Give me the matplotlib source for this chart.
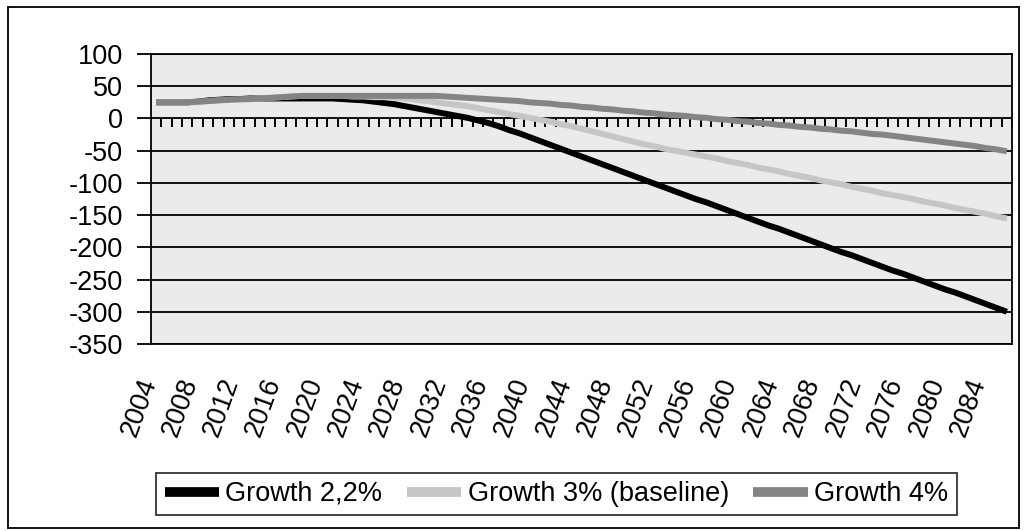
import matplotlib

matplotlib.use("Agg")
import matplotlib.pyplot as plt
from matplotlib.patches import Rectangle
from matplotlib.transforms import ScaledTranslation

plt.rcParams["font.family"] = ["Liberation Sans", "DejaVu Sans"]

# ── data ──────────────────────────────────────────────────────
years = list(range(2004, 2087))

growth_22 = [
    25, 25, 25, 25, 26,
    28, 29, 30, 30, 31,
    31, 31, 31, 31, 31,
    31, 31, 31, 30, 29,
    28, 26, 24, 22, 19,
    16, 13, 10, 7, 4,
    1, -3, -7, -12, -18,
    -23, -29, -35, -41, -47,
    -53, -59, -65, -71, -77,
    -83, -89, -95, -101, -107,
    -113, -119, -125, -130, -136,
    -142, -148, -154, -160, -166,
    -171, -177, -183, -189, -195,
    -201, -207, -212, -218, -224,
    -230, -236, -241, -247, -253,
    -259, -265, -270, -276, -282,
    -288, -294, -300,
]

growth_3 = [
    25, 25, 25, 25, 25,
    27, 28, 29, 29, 30,
    31, 32, 33, 34, 35,
    35, 35, 35, 35, 34,
    34, 33, 33, 32, 31,
    29, 27, 25, 23, 21,
    19, 16, 13, 10, 7,
    4, 1, -2, -5, -9,
    -12, -16, -20, -24, -28,
    -32, -36, -40, -43, -47,
    -50, -53, -56, -59, -62,
    -66, -69, -72, -76, -79,
    -82, -86, -89, -92, -96,
    -99, -102, -106, -109, -112,
    -116, -119, -122, -125, -129,
    -132, -135, -139, -142, -145,
    -148, -152, -155,
]

growth_4 = [
    25, 25, 25, 25, 26,
    27, 28, 29, 30, 30,
    31, 32, 33, 34, 35,
    35, 35, 35, 35, 35,
    35, 35, 35, 35, 35,
    35, 35, 35, 34, 33,
    32, 31, 30, 29, 28,
    27, 25, 24, 23, 21,
    20, 18, 17, 15, 14,
    12, 11, 9, 8, 6,
    5, 4, 2, 1, -1,
    -2, -4, -5, -7, -8,
    -10, -11, -13, -14, -16,
    -17, -19, -20, -22, -24,
    -25, -27, -29, -31, -33,
    -35, -37, -39, -41, -43,
    -46, -48, -51,
]

series = [
    ("Growth 2,2%", growth_22, "#000000"),
    ("Growth 3% (baseline)", growth_3, "#c6c6c6"),
    ("Growth 4%", growth_4, "#848484"),
]
y_ticks = [100, 50, 0, -50, -100, -150, -200, -250, -300, -350]
label_years = years[::4]

FS = 19.5

fig = plt.figure(figsize=(10.24, 5.31), dpi=100)
W, H = 1024, 531
ax = fig.add_axes([151 / W, 1 - 344 / H, (1012 - 151) / W, (344 - 54) / H])
ax.set_facecolor("#ebebeb")

# drawn in series order, so the later series lie on top
for i, (name, vals, col) in enumerate(series):
    ax.plot(years, vals, color=col, lw=4.3, solid_capstyle="butt", zorder=3 + i)

ax.set_xlim(years[0] - 0.5, years[-1] + 0.5)
ax.set_ylim(-350, 100)

# horizontal gridlines
for v in y_ticks:
    ax.axhline(v, color="black", lw=1.3, zorder=2)

# category-axis ticks hanging from the zero line
bounds = [y - 0.5 for y in years[1:]] + [years[-1] + 0.5]
ax.vlines(bounds, -14, 0, color="black", lw=1.4, zorder=2)

ax.set_yticks(y_ticks)
ax.set_yticklabels([str(v) for v in y_ticks], fontsize=FS)
ax.tick_params(axis="y", direction="out", length=10, width=1.3, pad=10)

ax.set_xticks(label_years)
ax.set_xticklabels([str(y) for y in label_years], fontsize=FS, rotation=70,
                   ha="right", va="center", rotation_mode="anchor")
ax.tick_params(axis="x", length=0, pad=25)
offset = ScaledTranslation(-7 / 100, 0, fig.dpi_scale_trans)
for lab in ax.get_xticklabels():
    lab.set_transform(lab.get_transform() + offset)

for s in ax.spines.values():
    s.set_color("black")
    s.set_linewidth(1.3)

# legend
handles = [plt.Line2D([], [], color=c, lw=7, solid_capstyle="butt") for _, _, c in series]
labels = [n for n, _, _ in series]
leg = fig.legend(handles, labels, loc="center",
                 bbox_to_anchor=((150 + 963) / 2 / W, 1 - 494 / H),
                 ncol=3, fontsize=FS, frameon=True, fancybox=False,
                 edgecolor="black", handlelength=2.0, handletextpad=0.25,
                 columnspacing=0.9, borderpad=0.3, borderaxespad=0)
leg.get_frame().set_linewidth(1.3)

# outer border of the chart
fig.patches.append(Rectangle((8 / W, 3 / H), 1011 / W, 521 / H,
                             transform=fig.transFigure, fill=False,
                             edgecolor="black", lw=1.3))

fig.savefig("out.png", dpi=100, facecolor="white")
